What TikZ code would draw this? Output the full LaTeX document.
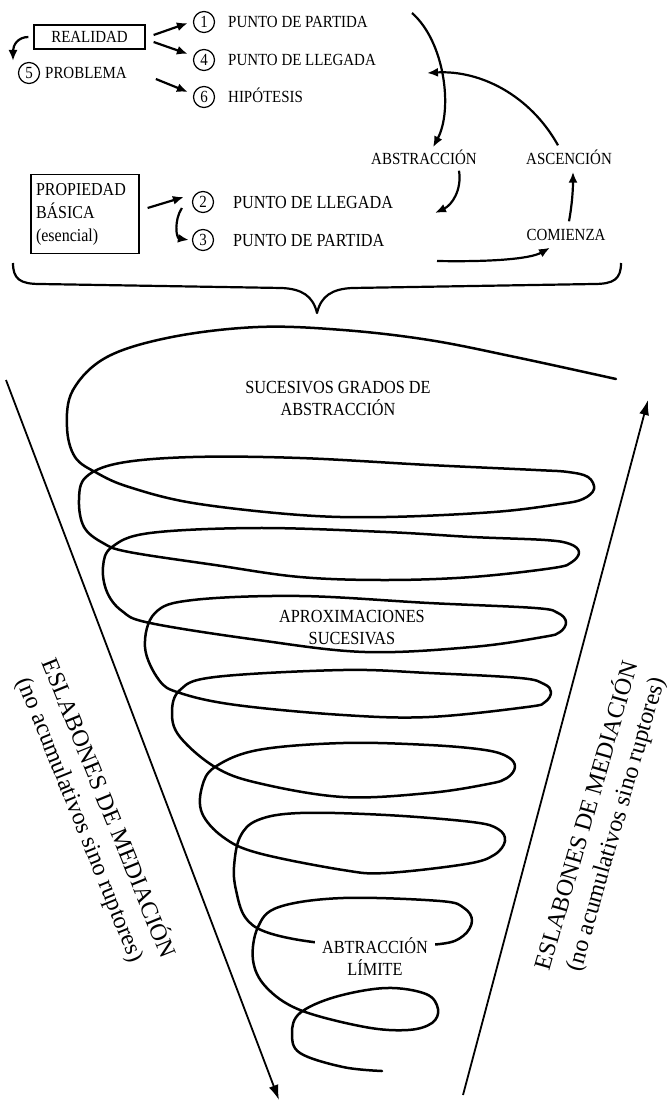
\documentclass[tikz,border=0pt]{standalone}
\usepackage{fontspec}
\setmainfont{Liberation Serif}
\newfontfamily\narrowserif{Liberation Serif}[FakeStretch=0.88]
\usetikzlibrary{arrows.meta}

\begin{document}
\begin{tikzpicture}[x=1pt,y=-1pt,
  arr/.style={line width=2.2pt, -{Latex[length=11pt,width=9pt]}},
  funnel/.style={line width=1.8pt, -{Latex[length=15pt,width=10pt]}},
  spiralline/.style={line width=2.5pt, line join=round, line cap=round},
  bracepath/.style={line width=2.2pt, line join=round},
  toplbl/.style={inner sep=0pt, anchor=west, text height=11pt, text depth=0pt,
    font=\narrowserif\fontsize{17}{20}\selectfont},
  biglbl/.style={inner sep=0pt, anchor=west, text height=12pt, text depth=0pt,
    font=\narrowserif\fontsize{18.4}{22}\selectfont},
  cyclbl/.style={inner sep=0pt, text height=11pt, text depth=0pt,
    font=\narrowserif\fontsize{17}{20}\selectfont},
  numcirc/.style={circle, draw, line width=1.2pt, inner sep=0pt, minimum size=21pt,
    text height=11pt, text depth=0pt, font=\narrowserif\fontsize{17}{20}\selectfont},
  framebox/.style={draw, line width=1.2pt},
  midlbl/.style={align=center, inner sep=0pt, font=\narrowserif\fontsize{18.5}{22}\selectfont},
  rotlbl/.style={align=center, inner sep=0pt, font=\fontsize{24}{30}\selectfont}
]
\useasboundingbox (0,0) rectangle (670,1105);

% ---------- upper left block ----------
\node[framebox, minimum width=111pt, minimum height=24pt, inner sep=0pt,
  text height=11pt, text depth=0pt, font=\narrowserif\fontsize{17}{20}\selectfont]
  (realidad) at (89.5,37) {REALIDAD};
\node[numcirc] (c1) at (204,22) {1};
\node[toplbl] (lbl1) at (228,22) {PUNTO DE PARTIDA};
\node[numcirc] (c4) at (204,60) {4};
\node[toplbl] (lbl4) at (228,60) {PUNTO DE LLEGADA};
\node[numcirc] (c6) at (204,97) {6};
\node[toplbl] (lbl6) at (228,97) {HIPÓTESIS};
\node[numcirc] (c5) at (29,73) {5};
\node[toplbl] (lbl5) at (45,73) {PROBLEMA};
\coordinate (p5) at (13,61);

\draw[arr] ([xshift=8pt,yshift=2pt]realidad.east) -- ([xshift=-5pt,yshift=-1pt]c1.west);
\draw[arr] ([xshift=8pt,yshift=-5pt]realidad.east) -- ([xshift=-5pt,yshift=6pt]c4.west);
\draw[arr] ([xshift=29pt,yshift=-6pt]lbl5.east) -- ([xshift=-5pt,yshift=5pt]c6.west);
\draw[arr] ([xshift=-5pt]realidad.west) .. controls (18,37) and (13,45) .. (p5);

% ---------- propiedad basica ----------
\node[framebox, minimum width=108pt, minimum height=79pt, inner xsep=5pt,
  text width=98pt, align=left, font=\narrowserif\fontsize{18.2}{23}\selectfont]
  (prop) at (85,214) {PROPIEDAD\\BÁSICA\\(esencial)};
\node[numcirc] (c2) at (203,202) {2};
\node[biglbl] (lbl2) at (233,202) {PUNTO DE LLEGADA};
\node[numcirc] (c3) at (203,240) {3};
\node[biglbl] (lbl3) at (233,240) {PUNTO DE PARTIDA};

\draw[arr] ([xshift=8pt,yshift=6pt]prop.east) -- ([xshift=-8pt,yshift=5pt]c2.west);
\draw[arr] ([xshift=-10pt,yshift=-6pt]c2.west) .. controls (174,220) and (176,238) .. ([xshift=-3pt]c3.west);

% ---------- abstraction / ascension cycle ----------
\node[cyclbl] (abstr) at (424,159) {ABSTRACCIÓN};
\node[cyclbl] (ascen) at (569,159) {ASCENCIÓN};
\node[cyclbl] (comien) at (566,235) {COMIENZA};
\coordinate (sA) at (412,13);
\coordinate (tA) at (427,73);
\coordinate (tB) at (435,213);
\coordinate (sC) at (437,261);

\draw[arr] (sA) .. controls (445,42) and (453,110) .. ([xshift=9pt,yshift=6pt]abstr.north);
\draw[arr] ([xshift=-11pt,yshift=8pt]ascen.north) .. controls (530,95) and (480,70) .. (tA);
\draw[arr] ([xshift=35pt,yshift=-6pt]abstr.south) .. controls (462,190) and (452,205) .. (tB);
\draw[arr] ([xshift=3pt,yshift=8pt]comien.north) .. controls (572,205) and (573,190) .. ([xshift=4pt,yshift=-7pt]ascen.south);
\draw[arr] (sC) .. controls (490,262) and (530,259) .. ([xshift=-16pt,yshift=-7pt]comien.south);

% ---------- brace ----------
\draw[bracepath] (13,263) .. controls (13,279) and (20,284) .. (40,284)
  -- (282,288) .. controls (302,289) and (313,296) .. (317,313)
  .. controls (321,296) and (332,289) .. (352,288)
  -- (594,284) .. controls (614,284) and (621,279) .. (621,263);

% ---------- funnel sides ----------
\coordinate (fLtop) at (6,380);
\coordinate (fLtip) at (279,1100);
\coordinate (fRbot) at (463,1095);
\coordinate (fRtip) at (648,400);
\draw[funnel] (fLtop) -- (fLtip);
\draw[funnel] (fRbot) -- (fRtip);

% ---------- spiral of successive abstractions ----------
\draw[spiralline] plot[smooth, tension=0.6] coordinates {
  (616,379) (515,357) (429,340) (343,330) (258,327) (172,337) (107,357) (73,390)
  (67,427) (75,457) (97,473) (129,487) (193,503) (300,515) (386,517) (494,512)
  (560,504) (583,499) (594,489) (588,477) (568,472) (536,470) (429,465) (300,458) (193,457)
  (120,463) (86,477) (79,500) (84,527) (103,543) (129,552) (215,565) (300,577)
  (386,580) (472,577) (553,568) (572,562) (579,552) (570,544) (545,540) (472,537) (386,532)
  (258,528) (150,533) (112,547) (103,567) (107,592) (122,611) (150,623) (258,640)
  (365,652) (472,647) (543,637) (560,632) (566,622) (558,613) (535,608) (429,603) (300,596) (193,600)
  (155,613) (145,647) (159,680) (180,693) (236,705) (343,715) (429,717) (527,707)
  (545,702) (551,692) (544,684) (520,678) (429,673) (343,670) (215,677) (180,690) (172,713) (180,737)
  (215,767) (258,783) (343,797) (429,793) (488,784) (507,778) (515,767) (508,757) (485,750) (429,745)
  (343,743) (258,750) (215,767) (202,787) (202,813) (223,837) (258,853) (343,870)
  (386,873) (466,864) (494,855) (505,841) (498,829) (472,822) (386,815) (300,813) (258,820)
  (240,837) (234,867) (236,890) (245,917) (266,932) (313,942) (375,946) (440,944)
  (463,936) (472,921) (464,908) (440,901) (343,898) (279,907) (258,927) (253,960)
  (266,987) (300,1010) (365,1027) (408,1030) (432,1023) (438,1009) (426,994) (386,988)
  (335,997) (300,1013) (292,1033) (300,1053) (343,1067) (382,1071)
};

% ---------- labels inside the spiral ----------
\node[midlbl] (grados) at (338,398) {SUCESIVOS GRADOS DE\\ABSTRACCIÓN};
\node[midlbl] (aprox) at (352,628) {APROXIMACIONES\\SUCESIVAS};
\node[midlbl, fill=white, inner xsep=7pt, inner ysep=1pt] (limite) at (375,957) {ABTRACCIÓN\\LÍMITE};

% ---------- side labels ----------
\node[rotlbl, rotate=-68] (eslabL) at (95,814) {ESLABONES DE MEDIACIÓN\\(no acumulativos sino ruptores)};
\node[rotlbl, rotate=74] (eslabR) at (601,820) {ESLABONES DE MEDIACIÓN\\(no acumulativos sino ruptores)};

\end{tikzpicture}
\end{document}
